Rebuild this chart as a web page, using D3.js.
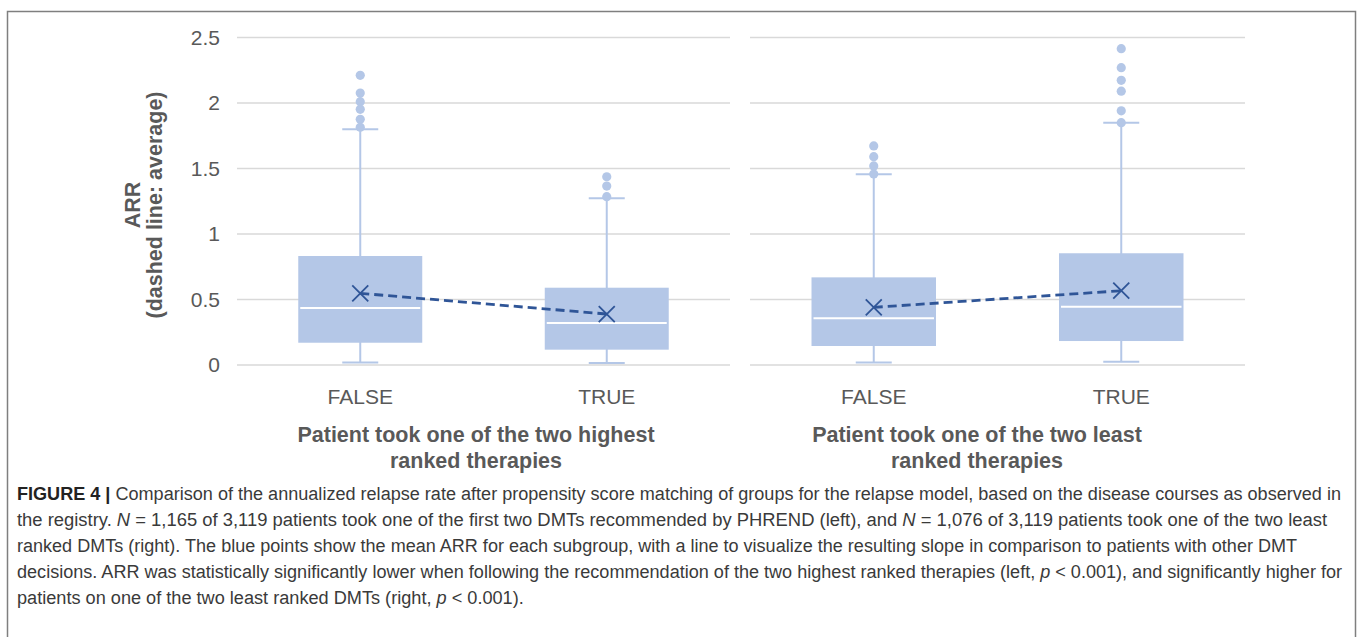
<!DOCTYPE html>
<html>
<head>
<meta charset="utf-8">
<script src="https://cdn.jsdelivr.net/npm/d3@7"></script>
<style>
  html, body { margin: 0; padding: 0; background: #fff; }
  svg { display: block; }
</style>
</head>
<body>
<svg id="chart" width="1358" height="637"></svg>
<script>
// ---------- data ----------
const categories = ["FALSE", "TRUE"];
const panelTitles = [
  ["Patient took one of the two highest", "ranked therapies"],
  ["Patient took one of the two least", "ranked therapies"]
];
const yTicks = [0, 0.5, 1, 1.5, 2, 2.5];
const yTickLabels = ["0", "0.5", "1", "1.5", "2", "2.5"];
const yTitle = ["ARR", "(dashed line: average)"];

// per box: [left FALSE, left TRUE, right FALSE, right TRUE]
const whiskerLow  = [0.020, 0.015, 0.020, 0.025];
const q1          = [0.170, 0.117, 0.145, 0.183];
const medians     = [0.435, 0.320, 0.356, 0.445];
const q3          = [0.832, 0.590, 0.669, 0.853];
const whiskerHigh = [1.800, 1.272, 1.456, 1.850];
const means       = [0.547, 0.389, 0.440, 0.567];
const outliers = [
  [2.211, 2.076, 2.010, 1.952, 1.876, 1.815],
  [1.437, 1.366, 1.285],
  [1.672, 1.590, 1.520, 1.458],
  [2.415, 2.270, 2.173, 2.090, 1.940, 1.850]
];

const captionLines = [
  [["b", "FIGURE 4 | "], ["n", "Comparison of the annualized relapse rate after propensity score matching of groups for the relapse model, based on the disease courses as observed in"]],
  [["n", "the registry. "], ["i", "N"], ["n", " = 1,165 of 3,119 patients took one of the first two DMTs recommended by PHREND (left), and "], ["i", "N"], ["n", " = 1,076 of 3,119 patients took one of the two least"]],
  [["n", "ranked DMTs (right). The blue points show the mean ARR for each subgroup, with a line to visualize the resulting slope in comparison to patients with other DMT"]],
  [["n", "decisions. ARR was statistically significantly lower when following the recommendation of the two highest ranked therapies (left, "], ["i", "p"], ["n", " < 0.001), and significantly higher for"]],
  [["n", "patients on one of the two least ranked DMTs (right, "], ["i", "p"], ["n", " < 0.001)."]]
];

// ---------- style / layout ----------
const boxColor = "#b4c7e7";
const meanColor = "#2f5597";
const gridColor = "#d9d9d9";
const textColor = "#595959";
const FONT = "'Liberation Sans', Arial, Helvetica, sans-serif";

const svg = d3.select("#chart");

// outer frame
svg.append("rect")
  .attr("x", 7.5).attr("y", 11.5)
  .attr("width", 1348).attr("height", 700)
  .attr("fill", "none").attr("stroke", "#7f7f7f").attr("stroke-width", 1.5);

const y = d3.scaleLinear().domain([0, 2.5]).range([365, 37.5]);
const panelRanges = [[237, 730], [750, 1245]];
const titleX = [476, 977];

// y tick labels
const yAxis = svg.append("g")
  .attr("transform", "translate(220,0)")
  .call(d3.axisLeft(y).tickValues(yTicks)
    .tickFormat((d, i) => yTickLabels[i]).tickSize(0).tickPadding(0));
yAxis.select(".domain").remove();
yAxis.selectAll("text")
  .attr("font-family", FONT).attr("font-size", 21).attr("fill", textColor);

// y title
const yt = svg.append("text")
  .attr("transform", "translate(0,205) rotate(-90)")
  .attr("text-anchor", "middle")
  .attr("font-family", FONT).attr("font-size", 21.5).attr("font-weight", "bold")
  .attr("fill", textColor);
yt.append("tspan").attr("x", 0).attr("y", 140).text(yTitle[0]);
yt.append("tspan").attr("x", 0).attr("y", 162).text(yTitle[1]);

panelRanges.forEach((range, p) => {
  const x = d3.scaleBand().domain(categories).range(range).padding(0);
  const g = svg.append("g");
  const boxW = x.bandwidth() * 0.503;
  const capW = 36;

  // gridlines
  g.selectAll("line.grid").data(yTicks).enter().append("line")
    .attr("x1", range[0]).attr("x2", range[1])
    .attr("y1", d => y(d)).attr("y2", d => y(d))
    .attr("stroke", gridColor).attr("stroke-width", 1.5);

  // x tick labels
  const xa = svg.append("g").attr("transform", "translate(0,389)")
    .call(d3.axisBottom(x).tickSize(0).tickPadding(0));
  xa.select(".domain").remove();
  xa.selectAll("text")
    .attr("font-family", FONT).attr("font-size", 21).attr("fill", textColor);

  // panel title
  const t = svg.append("text")
    .attr("text-anchor", "middle")
    .attr("font-family", FONT).attr("font-size", 21.5).attr("font-weight", "bold")
    .attr("fill", textColor);
  panelTitles[p].forEach((line, k) => {
    t.append("tspan").attr("x", titleX[p]).attr("y", 442 + k * 26).text(line);
  });

  categories.forEach((c, ci) => {
    const i = p * 2 + ci;
    const cx = x(c) + x.bandwidth() / 2;
    // whisker vertical
    g.append("line").attr("x1", cx).attr("x2", cx)
      .attr("y1", y(whiskerLow[i])).attr("y2", y(whiskerHigh[i]))
      .attr("stroke", boxColor).attr("stroke-width", 2);
    // caps
    [whiskerLow[i], whiskerHigh[i]].forEach(v => {
      g.append("line").attr("x1", cx - capW / 2).attr("x2", cx + capW / 2)
        .attr("y1", y(v)).attr("y2", y(v))
        .attr("stroke", boxColor).attr("stroke-width", 2);
    });
    // box
    g.append("rect").attr("x", cx - boxW / 2).attr("width", boxW)
      .attr("y", y(q3[i])).attr("height", y(q1[i]) - y(q3[i]))
      .attr("fill", boxColor);
    // median
    g.append("line").attr("x1", cx - boxW / 2 + 2).attr("x2", cx + boxW / 2 - 2)
      .attr("y1", y(medians[i])).attr("y2", y(medians[i]))
      .attr("stroke", "#ffffff").attr("stroke-width", 2);
    // outliers
    g.selectAll(null).data(outliers[i]).enter().append("circle")
      .attr("cx", cx).attr("cy", d => y(d)).attr("r", 4.6)
      .attr("fill", boxColor);
  });

  // mean dashed line
  const meanPts = categories.map((c, ci) => [x(c) + x.bandwidth() / 2, y(means[p * 2 + ci])]);
  g.append("path")
    .attr("d", d3.line()(meanPts))
    .attr("fill", "none").attr("stroke", meanColor)
    .attr("stroke-width", 2.8).attr("stroke-dasharray", "9,5");
  // mean X markers
  meanPts.forEach(([mx, my]) => {
    const s = 8;
    g.append("path")
      .attr("d", `M${mx - s},${my - s}L${mx + s},${my + s}M${mx - s},${my + s}L${mx + s},${my - s}`)
      .attr("stroke", meanColor).attr("stroke-width", 1.8).attr("fill", "none");
  });
});

// caption
const capX = 17;
const capRight = [1341, 1327, 1297, 1342, null];
const capG = svg.append("g");
const ratios = [];
const capNodes = captionLines.map((parts, li) => {
  const t = capG.append("text")
    .attr("x", capX).attr("y", 500 + li * 26)
    .attr("font-family", FONT).attr("font-size", 18)
    .attr("fill", "#3a3a3a");
  parts.forEach(([kind, str]) => {
    const ts = t.append("tspan").text(str);
    if (kind === "b") ts.attr("font-weight", "bold").attr("fill", "#222");
    if (kind === "i") ts.attr("font-style", "italic");
  });
  return t;
});
capNodes.forEach((t, li) => {
  const w = t.node().getComputedTextLength();
  if (capRight[li] != null) ratios.push((capRight[li] - capX) / w);
});
const avgRatio = d3.mean(ratios);
capNodes.forEach((t, li) => {
  const w = t.node().getComputedTextLength();
  const target = capRight[li] != null ? capRight[li] - capX : w * avgRatio;
  t.attr("textLength", target).attr("lengthAdjust", "spacingAndGlyphs");
});
</script>
</body>
</html>
